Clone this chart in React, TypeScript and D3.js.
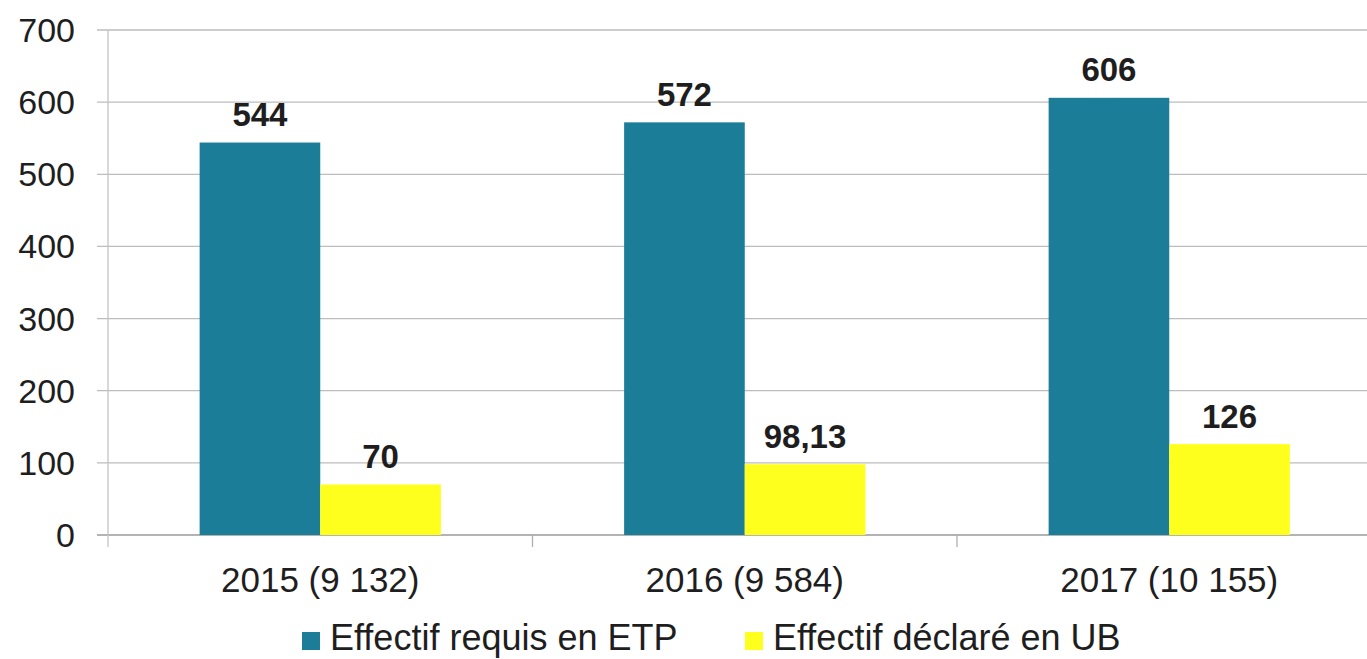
import React from "react";
import * as d3 from "d3";

const categories = ["2015 (9 132)", "2016 (9 584)", "2017 (10 155)"];
const seriesNames = ["Effectif requis en ETP", "Effectif déclaré en UB"];
const etpValues = [544, 572, 606];
const ubValues = [70, 98.13, 126];
const ubLabels = ["70", "98,13", "126"];
const etpLabels = ["544", "572", "606"];
const yTicks = [0, 100, 200, 300, 400, 500, 600, 700];
const colors = ["#1B7D97", "#FFFF1E"];

const W = 1367;
const H = 659;
const FONT = "'Liberation Sans', Arial, Helvetica, sans-serif";

export default function App() {
  const x0 = 108;
  const band = 424.5;
  const x = d3
    .scaleBand<string>()
    .domain(categories)
    .range([x0, x0 + band * categories.length])
    .paddingInner(0)
    .paddingOuter(0);
  const inner = d3
    .scaleBand<string>()
    .domain(["etp", "ub"])
    .range([0, x.bandwidth()])
    .paddingOuter(0.7596)
    .paddingInner(0);
  const y = d3.scaleLinear().domain([0, 700]).range([535, 30]);

  const series = [
    { key: "etp", values: etpValues, labels: etpLabels, color: colors[0] },
    { key: "ub", values: ubValues, labels: ubLabels, color: colors[1] },
  ];

  return (
    <div style={{ position: "absolute", left: 0, top: 0 }}>
      <svg width={W} height={H} style={{ display: "block", background: "#fff" }}>
        {yTicks.map((t) => (
          <g key={t}>
            <line
              x1={97}
              x2={W}
              y1={y(t)}
              y2={y(t)}
              stroke={t === 0 ? "#9a9a9a" : "#bdbdbd"}
              strokeWidth={t === 0 ? 1.6 : 1.3}
            />
            <text
              x={75}
              y={y(t) + 12}
              textAnchor="end"
              fontFamily={FONT}
              fontSize={34}
              fill="#1e1e1e"
            >
              {t}
            </text>
          </g>
        ))}
        <line x1={x0} x2={x0} y1={y(700)} y2={547} stroke="#c4c4c4" strokeWidth={1.3} />
        {categories.map((c, i) =>
          i > 0 ? (
            <line
              key={c}
              x1={x(c)!}
              x2={x(c)!}
              y1={y(0)}
              y2={547}
              stroke="#b0b0b0"
              strokeWidth={1.3}
            />
          ) : null
        )}
        {categories.map((c, i) => (
          <g key={c}>
            {series.map((s) => {
              const bx = x(c)! + inner(s.key)!;
              const bw = inner.bandwidth();
              return (
                <g key={s.key}>
                  <rect
                    x={bx}
                    y={y(s.values[i])}
                    width={bw}
                    height={y(0) - y(s.values[i])}
                    fill={s.color}
                  />
                  <text
                    x={bx + bw / 2}
                    y={y(s.values[i]) - 16.5}
                    textAnchor="middle"
                    fontFamily={FONT}
                    fontWeight="bold"
                    fontSize={33}
                    fill="#1e1e1e"
                  >
                    {s.labels[i]}
                  </text>
                </g>
              );
            })}
            <text
              x={x(c)! + x.bandwidth() / 2}
              y={592}
              textAnchor="middle"
              fontFamily={FONT}
              fontSize={35}
              fill="#1e1e1e"
            >
              {c}
            </text>
          </g>
        ))}
        {seriesNames.map((n, i) => {
          const lx = [302, 745][i];
          return (
            <g key={n}>
              <rect x={lx} y={632} width={18} height={18} fill={colors[i]} />
              <text
                x={lx + 28}
                y={650}
                fontFamily={FONT}
                fontSize={36}
                fill="#1e1e1e"
              >
                {n}
              </text>
            </g>
          );
        })}
      </svg>
    </div>
  );
}
